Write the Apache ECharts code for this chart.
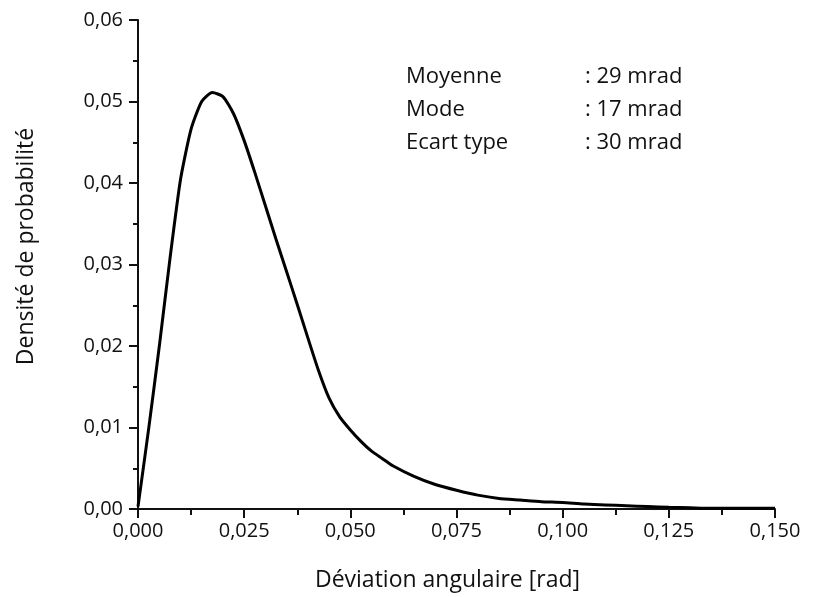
<!DOCTYPE html>
<html>
<head>
<meta charset="utf-8">
<script src="https://cdn.jsdelivr.net/npm/echarts@6/dist/echarts.min.js"></script>
<style>html,body{margin:0;padding:0;background:#fff;}#c{width:824px;height:597px;}</style>
</head>
<body>
<div id="c"></div>
<script>
const deviation = [0,0.0025,0.005,0.0075,0.010,0.0125,0.015,0.0175,0.020,0.0225,0.025,0.0275,0.030,0.0325,0.035,0.0375,0.040,0.0425,0.045,0.0475,0.050,0.0525,0.055,0.0575,0.060,0.065,0.070,0.075,0.080,0.085,0.090,0.095,0.100,0.105,0.110,0.115,0.120,0.125,0.130,0.135,0.140,0.145,0.150];
const density = [0.0003,0.0098,0.0199,0.0306,0.0404,0.0466,0.0500,0.0511,0.0506,0.0485,0.0452,0.0413,0.0372,0.0331,0.0291,0.0251,0.0210,0.0170,0.0136,0.0113,0.0097,0.0083,0.0071,0.0062,0.0053,0.0040,0.0030,0.0023,0.0017,0.0013,0.0011,0.0009,0.0008,0.0006,0.0005,0.0004,0.0003,0.0002,0.00015,0.0001,0.0001,0.0001,0.0001];
const statLabels = ["Moyenne", "Mode", "Ecart type"];
const statValues = [": 29 mrad", ": 17 mrad", ": 30 mrad"];
const xAxisTitle = "Déviation angulaire [rad]";
const yAxisTitle = "Densité de probabilité";

const FONT = "Open Sans";
const chart = echarts.init(document.getElementById('c'), null, {renderer: 'canvas'});

const texts = [];
statLabels.forEach((t, i) => {
  texts.push({type: 'text', left: 406, top: 66 + i * 33, style: {text: t, font: '22px "' + FONT + '"', fill: '#111'}});
  texts.push({type: 'text', left: 585, top: 66 + i * 33, style: {text: statValues[i], font: '22px "' + FONT + '"', fill: '#111'}});
});

chart.setOption({
  animation: false,
  backgroundColor: '#fff',
  grid: {left: 138, right: 49, top: 20, bottom: 88, containLabel: false},
  graphic: texts,
  xAxis: {
    type: 'value', min: 0, max: 0.15, interval: 0.025,
    name: xAxisTitle, nameLocation: 'middle', nameGap: 60,
    nameTextStyle: {fontFamily: FONT, fontSize: 23, color: '#111', padding: [0, 18, 0, 0]},
    axisLine: {show: true, onZero: false, lineStyle: {color: '#111', width: 2}},
    axisTick: {show: true, inside: false, length: 9, lineStyle: {color: '#111', width: 2}},
    minorTick: {show: true, splitNumber: 2, length: 6, lineStyle: {color: '#111', width: 2}},
    splitLine: {show: false},
    axisLabel: {margin: 12, fontFamily: FONT, fontSize: 20, color: '#111',
      formatter: v => v.toFixed(3).replace('.', ',')}
  },
  yAxis: {
    type: 'value', min: 0, max: 0.06, interval: 0.01,
    name: yAxisTitle, nameLocation: 'middle', nameGap: 100, nameRotate: 90,
    nameTextStyle: {fontFamily: FONT, fontSize: 23, color: '#111', padding: [0, 0, 0, 36]},
    axisLine: {show: true, onZero: false, lineStyle: {color: '#111', width: 2}},
    axisTick: {show: true, inside: false, length: 9, lineStyle: {color: '#111', width: 2}},
    minorTick: {show: true, splitNumber: 2, length: 5, lineStyle: {color: '#111', width: 2}},
    splitLine: {show: false},
    axisLabel: {margin: 15, fontFamily: FONT, fontSize: 20, color: '#111',
      formatter: v => v.toFixed(2).replace('.', ',')}
  },
  series: [{
    type: 'line',
    data: deviation.map((x, i) => [x, density[i]]),
    showSymbol: false,
    smooth: 0.2,
    lineStyle: {color: '#000', width: 3},
    clip: false
  }]
});
</script>
</body>
</html>
